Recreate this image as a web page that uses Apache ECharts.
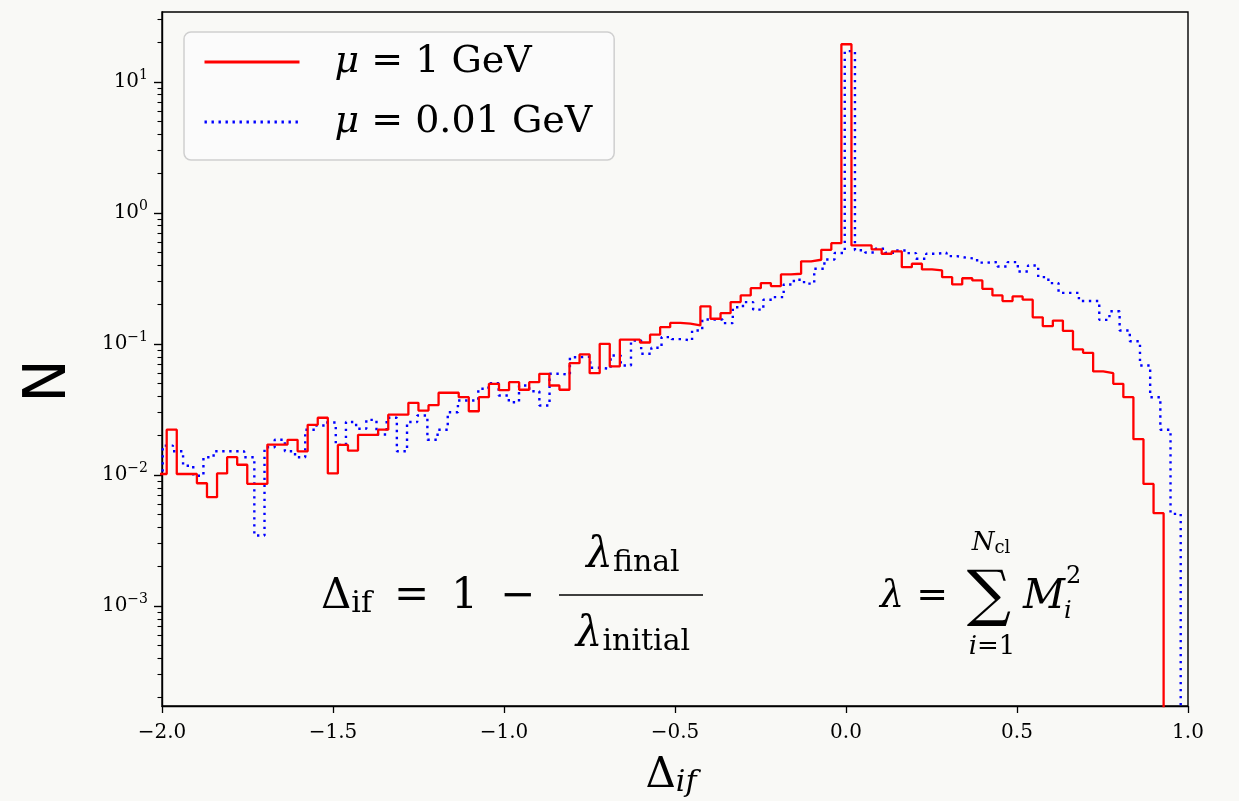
<!DOCTYPE html>
<html>
<head>
<meta charset="utf-8">
<script src="https://cdn.jsdelivr.net/npm/echarts@6/dist/echarts.min.js"></script>
<style>
html,body{margin:0;padding:0;background:#f9f9f6;}
#chart{width:1239px;height:801px;}
</style>
</head>
<body>
<div id="chart"></div>
<script>
// ---------------- data ----------------
const xTickValues = [-2.0, -1.5, -1.0, -0.5, 0.0, 0.5, 1.0];
const yTickValues = [0.001, 0.01, 0.1, 1, 10];
const seriesNames = ['μ = 1 GeV', 'μ = 0.01 GeV'];

// histogram of mu = 1 GeV : first bin left edge, bin width, bin contents
const redBinStart = -2.0157;
const redBinWidth = 0.029444;
const redValues = [
  0.0102, 0.0222, 0.0102, 0.0102, 0.00867, 0.00678, 0.0103, 0.0137, 0.0120, 0.00858,
  0.00858, 0.0171, 0.0171, 0.0186, 0.0152, 0.0242, 0.0274, 0.0103, 0.0170, 0.0154,
  0.0203, 0.0203, 0.0222, 0.0289, 0.0289, 0.0356, 0.0311, 0.0342, 0.0425, 0.0425,
  0.0393, 0.0307, 0.0393, 0.0497, 0.0445, 0.0512, 0.0448, 0.0512, 0.0593, 0.0483,
  0.0448, 0.0715, 0.0834, 0.0600, 0.1005, 0.0675, 0.108, 0.108, 0.1028, 0.118,
  0.1346, 0.145, 0.143, 0.1387, 0.1936, 0.156, 0.172, 0.209, 0.235, 0.267,
  0.292, 0.277, 0.340, 0.344, 0.428, 0.440, 0.524, 0.589, 19.4, 0.566,
  0.566, 0.528, 0.489, 0.509, 0.386, 0.410, 0.371, 0.365, 0.324, 0.285,
  0.318, 0.306, 0.264, 0.235, 0.213, 0.231, 0.218, 0.160, 0.137, 0.151,
  0.126, 0.091, 0.0858, 0.0618, 0.060, 0.0497, 0.0393, 0.0188, 0.00857, 0.00512
];

// histogram of mu = 0.01 GeV
const blueBinStart = -2.0277;
const blueBinWidth = 0.029766;
const blueValues = [
  0.0103, 0.0168, 0.0152, 0.0118, 0.0099, 0.0137, 0.0152, 0.0152, 0.0152, 0.0137,
  0.00346, 0.0163, 0.0186, 0.0152, 0.0137, 0.0222, 0.0239, 0.0252, 0.0170, 0.0254,
  0.0226, 0.0264, 0.0204, 0.0274, 0.0152, 0.0254, 0.0285, 0.0186, 0.0222, 0.0302,
  0.0371, 0.0371, 0.0456, 0.0503, 0.0405, 0.0360, 0.0483, 0.0437, 0.0340, 0.0593,
  0.0584, 0.0794, 0.080, 0.0659, 0.0648, 0.0818, 0.0687, 0.1065, 0.0843, 0.0937,
  0.113, 0.109, 0.1065, 0.127, 0.154, 0.154, 0.1445, 0.191, 0.209, 0.183,
  0.218, 0.228, 0.285, 0.310, 0.289, 0.376, 0.442, 0.496, 17.2, 0.52,
  0.50, 0.534, 0.497, 0.518, 0.494, 0.448, 0.489, 0.497, 0.469, 0.455,
  0.448, 0.418, 0.422, 0.391, 0.422, 0.358, 0.398, 0.324, 0.292, 0.246,
  0.246, 0.213, 0.213, 0.153, 0.178, 0.127, 0.105, 0.0687, 0.0393, 0.0222,
  0.00506
];

// ---------------- helpers ----------------
const FLOOR = 1e-9; // histogram outline drops to "zero" (below axis, clipped)
function histPoints(start, width, values) {
  const pts = [[start, FLOOR]];
  values.forEach((v, i) => pts.push([start + i * width, v]));
  pts.push([start + values.length * width, FLOOR]);
  return pts;
}
const minorTickValues = [];
for (let e = -4; e <= 1; e++) {
  for (let m = 2; m <= 9; m++) minorTickValues.push(m * Math.pow(10, e));
}

const SERIF = 'DejaVu Serif';
const chart = echarts.init(document.getElementById('chart'), null, {renderer: 'canvas'});

const yAxisCommon = {
  type: 'log', logBase: 10, min: 1.73e-4, max: 34.2, position: 'left',
  splitLine: {show: false}, minorSplitLine: {show: false}
};

const option = {
  backgroundColor: '#f9f9f6',
  animation: false,
  grid: {
    left: 162, right: 51, top: 12, bottom: 95,
    show: true, borderColor: '#000', borderWidth: 1.4, backgroundColor: 'transparent',
    containLabel: false, outerBoundsMode: 'none'
  },
  xAxis: {
    type: 'value', min: -2, max: 1, interval: 0.5,
    axisLine: {show: true, onZero: false, lineStyle: {color: '#000', width: 1.4}},
    axisTick: {show: true, inside: false, length: 7, lineStyle: {color: '#000', width: 1.3}},
    axisLabel: {
      show: true, margin: 17, color: '#000', fontFamily: SERIF, fontSize: 20,
      formatter: v => (v < 0 ? '\u2212' : '') + Math.abs(v).toFixed(1)
    },
    splitLine: {show: false}
  },
  yAxis: [
    Object.assign({}, yAxisCommon, {
      axisLine: {show: true, onZero: false, lineStyle: {color: '#000', width: 1.4}},
      axisTick: {show: true, inside: false, length: 8, customValues: yTickValues, lineStyle: {color: '#000', width: 1.4}},
      axisLabel: {
        show: true, margin: 14, color: '#000', customValues: yTickValues,
        formatter: v => {
          const e = Math.round(Math.log10(v));
          return '{b|10}{e|' + (e < 0 ? '\u2212' + (-e) : e) + '}';
        },
        rich: {
          b: {fontFamily: SERIF, fontSize: 20, lineHeight: 28, color: '#000'},
          e: {fontFamily: SERIF, fontSize: 14, lineHeight: 12, verticalAlign: 'top', color: '#000'}
        }
      }
    }),
    Object.assign({}, yAxisCommon, {
      axisLine: {show: false, onZero: false},
      axisLabel: {show: false},
      axisTick: {show: true, inside: false, length: 4.5, customValues: minorTickValues, lineStyle: {color: '#000', width: 1.1}}
    })
  ],
  legend: {
    show: true, orient: 'vertical', left: 184, top: 32, align: 'left',
    itemWidth: 95, itemHeight: 14, itemGap: 20,
    padding: [10, 22, 18, 19],
    backgroundColor: 'rgba(252,252,251,0.85)', borderColor: '#cfcfcf', borderWidth: 1.5, borderRadius: 7,
    itemStyle: {opacity: 0},
    lineStyle: {width: 3},
    data: seriesNames,
    formatter: name => '{sp|}{m|μ}{t|' + name.slice(1) + '}',
    textStyle: {
      color: '#000', fontFamily: SERIF, fontSize: 38, lineHeight: 40,
      rich: {
        sp: {width: 30},
        m: {fontFamily: SERIF, fontStyle: 'italic', fontSize: 38, lineHeight: 40, color: '#000'},
        t: {fontFamily: SERIF, fontSize: 38, lineHeight: 40, color: '#000'}
      }
    }
  },
  series: [
    {
      name: seriesNames[0], type: 'line', step: 'end', symbol: 'none', showSymbol: false,
      clip: true, yAxisIndex: 0,
      lineStyle: {color: '#ff0000', width: 2.3, type: 'solid'},
      itemStyle: {color: '#ff0000'},
      data: histPoints(redBinStart, redBinWidth, redValues), z: 3
    },
    {
      name: seriesNames[1], type: 'line', step: 'end', symbol: 'none', showSymbol: false,
      clip: true, yAxisIndex: 0,
      lineStyle: {color: '#0000ff', width: 2.4, type: [2.4, 4.6], cap: 'butt'},
      itemStyle: {color: '#0000ff'},
      data: histPoints(blueBinStart, blueBinWidth, blueValues), z: 2
    }
  ],
  graphic: [
    // y axis name
    {type: 'text', x: 50, y: 381, rotation: Math.PI / 2,
     style: {text: 'N', fontFamily: 'DejaVu Sans', fontSize: 58, fill: '#000', align: 'center', verticalAlign: 'middle'}},
    // x axis name
    {type: 'text', x: 671, y: 776,
     style: {text: '{d|Δ}{s|if}', align: 'center', verticalAlign: 'middle',
       rich: {
         d: {fontFamily: SERIF, fontSize: 42, lineHeight: 44, fill: '#000'},
         s: {fontFamily: SERIF, fontStyle: 'italic', fontSize: 30, lineHeight: 18, verticalAlign: 'bottom', fill: '#000'}
       }}},
    // formula 1
    {type: 'text', x: 321, y: 597,
     style: {text: '{d|Δ}{s|if}{g|}{t|=}{g|}{t|1}{g|}{t|\u2212}', align: 'left', verticalAlign: 'middle',
       rich: {
         d: {fontFamily: SERIF, fontSize: 42, lineHeight: 44, fill: '#000'},
         s: {fontFamily: SERIF, fontSize: 30, lineHeight: 18, verticalAlign: 'bottom', fill: '#000'},
         t: {fontFamily: SERIF, fontSize: 42, lineHeight: 44, fill: '#000'},
         g: {width: 22, lineHeight: 44}
       }}},
    {type: 'text', x: 633, y: 556,
     style: {text: '{l|λ}{s|final}', align: 'center', verticalAlign: 'middle',
       rich: {
         l: {fontFamily: SERIF, fontStyle: 'italic', fontSize: 42, lineHeight: 44, fill: '#000'},
         s: {fontFamily: SERIF, fontSize: 30, lineHeight: 18, verticalAlign: 'bottom', fill: '#000'}
       }}},
    {type: 'line', shape: {x1: 559, y1: 595, x2: 703, y2: 595}, style: {stroke: '#000', lineWidth: 1.6}},
    {type: 'text', x: 633, y: 635,
     style: {text: '{l|λ}{s|initial}', align: 'center', verticalAlign: 'middle',
       rich: {
         l: {fontFamily: SERIF, fontStyle: 'italic', fontSize: 42, lineHeight: 44, fill: '#000'},
         s: {fontFamily: SERIF, fontSize: 30, lineHeight: 18, verticalAlign: 'bottom', fill: '#000'}
       }}},
    // formula 2
    {type: 'text', x: 880, y: 597,
     style: {text: '{l|λ}{t| =}', align: 'left', verticalAlign: 'middle',
       rich: {
         l: {fontFamily: SERIF, fontStyle: 'italic', fontSize: 38, lineHeight: 44, fill: '#000'},
         t: {fontFamily: SERIF, fontSize: 38, lineHeight: 44, fill: '#000'}
       }}},
    {type: 'text', x: 989, y: 598,
     style: {text: '\u2211', fontFamily: SERIF, fontSize: 62, fill: '#000', align: 'center', verticalAlign: 'middle'}},
    {type: 'text', x: 991, y: 543,
     style: {text: '{n|N}{c|cl}', align: 'center', verticalAlign: 'middle',
       rich: {
         n: {fontFamily: SERIF, fontStyle: 'italic', fontSize: 26, lineHeight: 28, fill: '#000'},
         c: {fontFamily: SERIF, fontSize: 18, lineHeight: 14, verticalAlign: 'bottom', fill: '#000'}
       }}},
    {type: 'text', x: 992, y: 647,
     style: {text: '{i|i}{t|=1}', align: 'center', verticalAlign: 'middle',
       rich: {
         i: {fontFamily: SERIF, fontStyle: 'italic', fontSize: 26, fill: '#000'},
         t: {fontFamily: SERIF, fontSize: 26, fill: '#000'}
       }}},
    {type: 'text', x: 1023, y: 597,
     style: {text: 'M', fontFamily: SERIF, fontStyle: 'italic', fontSize: 41, fill: '#000', align: 'left', verticalAlign: 'middle'}},
    {type: 'text', x: 1066, y: 577,
     style: {text: '2', fontFamily: SERIF, fontSize: 24, fill: '#000', align: 'left', verticalAlign: 'middle'}},
    {type: 'text', x: 1064, y: 612,
     style: {text: 'i', fontFamily: SERIF, fontStyle: 'italic', fontSize: 24, fill: '#000', align: 'left', verticalAlign: 'middle'}}
  ]
};
chart.setOption(option);
</script>
</body>
</html>
